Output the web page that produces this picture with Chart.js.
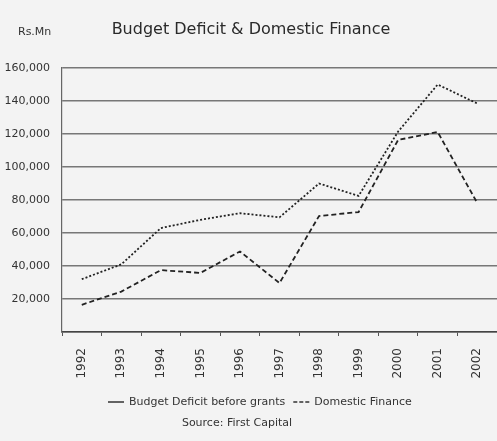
<!DOCTYPE html>
<html>
<head>
<meta charset="utf-8">
<script src="https://cdn.jsdelivr.net/npm/chart.js@4.4.0/dist/chart.umd.min.js"></script>
<style>
  html, body { margin: 0; padding: 0; background: #f3f3f3; }
  #wrap { width: 497px; height: 441px; }
</style>
</head>
<body>
<div id="wrap"><canvas id="chart" width="497" height="441"></canvas></div>
<script>
// --- data ---
const years = ['1992', '1993', '1994', '1995', '1996', '1997', '1998', '1999', '2000', '2001', '2002'];
const budgetDeficit = [32000, 41000, 63000, 68000, 72000, 69500, 90000, 82500, 121500, 150000, 138500];
const domesticFinance = [16500, 24500, 37500, 35800, 48800, 29700, 70300, 72700, 116400, 121200, 78200];
const seriesNames = ['Budget Deficit before grants', 'Domestic Finance'];
const yMin = 0, yMax = 160000, yStep = 20000;

const chartTitle = 'Budget Deficit & Domestic Finance';
const unitLabel = 'Rs.Mn';
const sourceNote = 'Source: First Capital';

const FONT = '"DejaVu Sans", "Liberation Sans", sans-serif';
const INK = '#333';

// title, unit, legend and source drawn by hand so they sit where the scan has them
const decor = {
  id: 'decor',
  afterDraw(chart) {
    const ctx = chart.ctx;
    ctx.save();
    ctx.textBaseline = 'middle';

    ctx.font = '16px ' + FONT;
    ctx.textAlign = 'center';
    ctx.fillStyle = '#2a2a2a';
    ctx.fillText(chartTitle, 251, 30);
    ctx.fillStyle = INK;

    ctx.font = '11px ' + FONT;
    ctx.textAlign = 'left';
    ctx.fillText(unitLabel, 18, 32);

    // legend
    let x = 108;
    const y = 402;
    chart.data.datasets.forEach((ds, i) => {
      ctx.strokeStyle = '#333';
      ctx.lineWidth = 1.5;
      ctx.setLineDash(i === 0 ? [] : [4, 2]);
      ctx.beginPath(); ctx.moveTo(x, y); ctx.lineTo(x + 16, y); ctx.stroke();
      ctx.setLineDash([]);
      ctx.font = '11px ' + FONT;
      ctx.fillText(ds.label, x + 21, y);
      x += 21 + ctx.measureText(ds.label).width + 8;
    });

    ctx.textAlign = 'center';
    ctx.fillText(sourceNote, 237, 423);
    ctx.restore();
  }
};

new Chart(document.getElementById('chart'), {
  type: 'line',
  data: {
    labels: years,
    datasets: [
      {label: seriesNames[0], data: budgetDeficit, borderColor: '#222', borderWidth: 1.8, borderDash: [2, 2], pointRadius: 0, tension: 0, fill: false},
      {label: seriesNames[1], data: domesticFinance, borderColor: '#222', borderWidth: 1.8, borderDash: [5, 3], pointRadius: 0, tension: 0, fill: false}
    ]
  },
  options: {
    responsive: false,
    animation: false,
    devicePixelRatio: 1,
    layout: {padding: {left: 0, top: 68, right: 0, bottom: 57}},
    plugins: {legend: {display: false}, title: {display: false}, tooltip: {enabled: false}},
    scales: {
      x: {
        offset: true,
        afterFit: s => { s.height = 52; s.paddingLeft = 0; s.paddingRight = 0; },
        grid: {display: true, offset: true, drawOnChartArea: false, drawTicks: true, tickLength: 4, color: '#555'},
        border: {display: true, color: '#444', width: 1.5},
        ticks: {minRotation: 90, maxRotation: 90, autoSkip: false, padding: 12, color: INK, font: {family: FONT, size: 12}}
      },
      y: {
        min: yMin, max: yMax,
        afterFit: s => { s.width = 62; s.paddingTop = 0; s.paddingBottom = 0; },
        grid: {color: '#777', lineWidth: 1.5, drawTicks: false},
        border: {display: true, color: '#666', width: 1.2},
        ticks: {
          stepSize: yStep, padding: 12, color: INK, font: {family: FONT, size: 11},
          callback: v => v === 0 ? '' : v.toLocaleString('en-US')
        }
      }
    }
  },
  plugins: [decor]
});
</script>
</body>
</html>
